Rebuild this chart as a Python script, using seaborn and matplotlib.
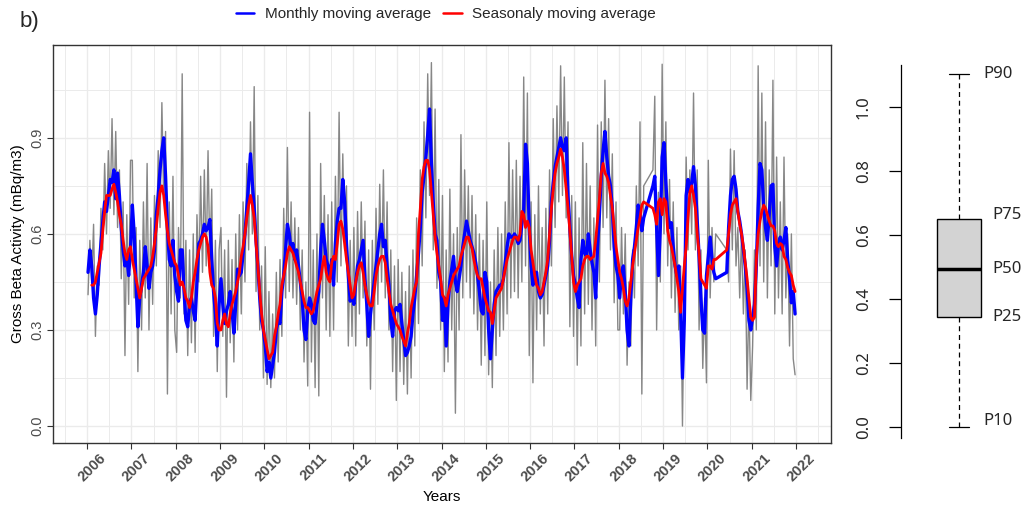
import numpy as np
import pandas as pd
import matplotlib
matplotlib.use("Agg")
import matplotlib.pyplot as plt
import seaborn as sns
from matplotlib.lines import Line2D
from matplotlib.transforms import ScaledTranslation

nan = np.nan

# ---------------- data ----------------
years = list(range(2006, 2022))          # one row of 24 semi-monthly values per year
tick_years = list(range(2006, 2023))

# thin grey line: measured gross beta activity (mBq/m3)
raw_activity = [
    0.41,0.58,0.45,0.63, 0.28,0.50,0.44,0.68, 0.55,0.82,0.60,0.86, 0.68,0.96,0.66,0.92, 0.62,0.80,0.46,0.70, 0.22,0.66,0.38,0.83,  # 2006
    0.83,0.40,0.62,0.17, 0.58,0.30,0.70,0.40, 0.82,0.30,0.65,0.38, 0.72,0.50,0.86,0.62, 1.01,0.70,0.92,0.10, 0.70,0.35,0.78,0.30,  # 2007
    0.23,0.62,0.40,1.10, 0.35,0.58,0.22,0.55, 0.26,0.60,0.23,0.66, 0.45,0.78,0.48,0.80, 0.50,0.86,0.52,0.74, 0.28,0.58,0.17,0.55,  # 2008
    0.62,0.28,0.55,0.09, 0.58,0.26,0.52,0.20, 0.60,0.30,0.66,0.35, 0.70,0.45,0.82,0.55, 0.95,0.60,1.06,0.42, 0.72,0.30,0.50,0.15,  # 2009
    0.56,0.13,0.42,0.12, 0.35,0.15,0.48,0.20, 0.52,0.28,0.68,0.40, 0.87,0.42,0.70,0.40, 0.65,0.38,0.62,0.30, 0.55,0.20,0.45,0.125, # 2010
    0.98,0.20,0.55,0.12, 0.60,0.094,0.82,0.40, 0.72,0.30,0.66,0.28, 0.70,0.30,0.78,0.45, 0.98,0.50,0.85,0.55, 0.75,0.25,0.58,0.28, # 2011
    0.62,0.25,0.67,0.35, 0.70,0.40,0.64,0.25, 0.55,0.115,0.58,0.30, 0.68,0.38,0.755,0.45, 0.80,0.40,0.70,0.30, 0.55,0.17,0.50,0.08, # 2012
    0.52,0.17,0.48,0.13, 0.42,0.10,0.50,0.15, 0.55,0.25,0.65,0.32, 0.80,0.50,0.95,0.65, 1.10,0.72,1.135,0.55, 0.99,0.43,0.77,0.30, # 2013
    0.72,0.17,0.55,0.20, 0.74,0.30,0.60,0.04, 0.62,0.30,0.91,0.40, 0.80,0.45,0.75,0.40, 0.72,0.35,0.66,0.30, 0.60,0.19,0.58,0.22,  # 2014
    0.70,0.16,0.45,0.12, 0.55,0.22,0.62,0.28, 0.60,0.30,0.70,0.35, 0.885,0.40,0.80,0.42, 0.83,0.40,0.78,0.45, 1.09,0.50,1.04,0.22, # 2015
    0.70,0.135,0.66,0.30, 0.75,0.35,0.62,0.25, 0.68,0.35,0.80,0.50, 0.96,0.62,1.00,0.70, 1.125,0.72,1.09,0.65, 0.95,0.31,0.72,0.28, # 2016
    0.70,0.19,0.65,0.25, 0.885,0.35,0.82,0.38, 0.75,0.30,0.65,0.25, 0.94,0.45,0.95,0.62, 1.08,0.65,0.96,0.55, 0.85,0.385,0.70,0.30, # 2017
    0.30,0.62,0.35,0.60, 0.19,0.45,0.25,0.55, 0.40,0.75,0.50,0.95, 0.10,0.75,nan,nan, nan,nan,0.80,1.03, 0.30,0.73,0.45,1.13,  # 2018
    0.60,0.95,0.50,0.77, 0.40,0.70,0.355,0.62, 0.30,0.50,0.00,0.45, 0.84,0.55,0.80,0.60, 1.04,0.55,0.80,0.30, 0.55,0.18,0.40,0.135, # 2019
    0.83,0.40,0.62,0.45, 0.60,nan,nan,nan, nan,nan,0.55,0.45, 0.865,0.55,0.86,0.50, 0.62,0.40,0.60,0.35, 0.55,0.115,0.40,0.08, # 2020
    0.25,0.55,0.30,1.125, 0.50,1.04,0.45,0.95, 0.40,0.80,0.50,1.08, 0.35,0.84,0.40,0.70, 0.35,0.84,0.40,0.60, 0.25,0.60,0.21,0.16, # 2021
]

# blue: monthly moving average
monthly_ma = [
    0.48,0.55,0.50,0.40, 0.35,0.41,0.50,0.57, 0.64,0.70,0.67,0.72, 0.77,0.76,0.80,0.71, 0.79,0.72,0.62,0.55, 0.50,0.53,0.47,0.55,  # 2006
    0.69,0.60,0.45,0.31, 0.40,0.44,0.48,0.56, 0.50,0.43,0.48,0.50, 0.55,0.66,0.72,0.80, 0.86,0.90,0.78,0.62, 0.52,0.50,0.58,0.47,  # 2007
    0.42,0.39,0.55,0.55, 0.42,0.33,0.31,0.38, 0.40,0.36,0.33,0.45, 0.57,0.58,0.60,0.63, 0.61,0.62,0.645,0.52, 0.42,0.35,0.25,0.38, # 2008
    0.46,0.38,0.32,0.36, 0.38,0.42,0.36,0.29, 0.38,0.49,0.47,0.48, 0.54,0.60,0.68,0.76, 0.85,0.76,0.68,0.58, 0.50,0.40,0.33,0.30,  # 2009
    0.25,0.17,0.20,0.15, 0.19,0.23,0.30,0.33, 0.32,0.42,0.47,0.55, 0.63,0.60,0.55,0.57, 0.52,0.55,0.50,0.45, 0.40,0.30,0.27,0.36,  # 2010
    0.40,0.38,0.33,0.32, 0.38,0.42,0.55,0.63, 0.58,0.52,0.50,0.46, 0.52,0.44,0.57,0.64, 0.68,0.68,0.77,0.70, 0.57,0.47,0.39,0.41,  # 2011
    0.38,0.45,0.50,0.52, 0.55,0.58,0.46,0.38, 0.28,0.35,0.40,0.45, 0.50,0.55,0.60,0.63, 0.56,0.58,0.50,0.44, 0.33,0.28,0.36,0.37,  # 2012
    0.36,0.38,0.32,0.27, 0.22,0.23,0.25,0.28, 0.35,0.40,0.47,0.54, 0.62,0.73,0.78,0.84, 0.91,0.99,0.82,0.70, 0.60,0.58,0.48,0.45,  # 2013
    0.33,0.40,0.25,0.38, 0.45,0.49,0.53,0.45, 0.42,0.46,0.50,0.56, 0.60,0.64,0.61,0.58, 0.56,0.54,0.51,0.47, 0.42,0.36,0.35,0.48,  # 2014
    0.45,0.30,0.21,0.30, 0.38,0.42,0.43,0.44, 0.44,0.46,0.51,0.56, 0.60,0.59,0.59,0.60, 0.59,0.57,0.58,0.63, 0.67,0.88,0.82,0.62,  # 2015
    0.50,0.44,0.48,0.48, 0.42,0.40,0.41,0.44, 0.47,0.50,0.58,0.70, 0.76,0.81,0.84,0.87, 0.90,0.87,0.86,0.90, 0.72,0.62,0.53,0.47,  # 2016
    0.44,0.40,0.37,0.52, 0.58,0.54,0.53,0.60, 0.55,0.51,0.48,0.40, 0.56,0.66,0.78,0.86, 0.92,0.84,0.78,0.75, 0.68,0.56,0.50,0.47,  # 2017
    0.40,0.48,0.50,0.42, 0.30,0.25,0.40,0.52, 0.56,0.62,0.69,0.66, 0.61,0.65,nan,nan, nan,nan,0.75,0.78, 0.62,0.47,0.62,0.84,    # 2018
    0.885,0.76,0.66,0.62, 0.635,0.56,0.50,0.47, 0.50,0.36,0.15,0.33, 0.72,0.77,0.73,0.76, 0.81,0.75,0.64,0.53, 0.40,0.30,0.29,0.47, # 2019
    0.53,0.59,0.52,0.48, 0.46,nan,nan,nan, nan,nan,0.48,0.62, 0.72,0.77,0.78,0.74, 0.67,0.64,0.60,0.55, 0.50,0.43,0.33,0.30,      # 2020
    0.34,0.38,0.50,0.68, 0.82,0.80,0.68,0.62, 0.58,0.66,0.75,0.755, 0.56,0.50,0.57,0.59, 0.55,0.58,0.62,0.52, 0.46,0.385,0.42,0.35, # 2021
]

# red: seasonal moving average
seasonal_ma = [
    nan,nan,0.44,0.44, 0.45,0.48,0.51,0.54, 0.61,0.67,0.72,0.72, 0.72,0.74,0.755,0.73, 0.70,0.66,0.63,0.58, 0.54,0.52,0.55,0.56,  # 2006
    0.52,0.49,0.46,0.43, 0.40,0.43,0.46,0.47, 0.48,0.49,0.50,0.53, 0.57,0.62,0.68,0.73, 0.75,0.72,0.66,0.61, 0.57,0.55,0.53,0.51,  # 2007
    0.50,0.47,0.44,0.45, 0.43,0.40,0.39,0.37, 0.40,0.45,0.48,0.52, 0.55,0.57,0.59,0.60, 0.59,0.56,0.48,0.44, 0.43,0.40,0.32,0.30,  # 2008
    0.30,0.33,0.35,0.32, 0.31,0.35,0.38,0.40, 0.42,0.45,0.48,0.53, 0.56,0.60,0.65,0.69, 0.72,0.69,0.65,0.57, 0.50,0.42,0.35,0.30,  # 2009
    0.27,0.24,0.21,0.22, 0.23,0.28,0.31,0.35, 0.38,0.44,0.47,0.50, 0.54,0.56,0.55,0.54, 0.52,0.50,0.48,0.45, 0.42,0.39,0.37,0.37,  # 2010
    0.36,0.35,0.36,0.39, 0.42,0.44,0.46,0.50, 0.53,0.48,0.46,0.45, 0.51,0.53,0.52,0.57, 0.63,0.64,0.615,0.57, 0.52,0.48,0.44,0.40, # 2011
    0.41,0.45,0.48,0.50, 0.51,0.48,0.44,0.41, 0.385,0.375,0.375,0.42, 0.47,0.50,0.52,0.53, 0.53,0.51,0.46,0.42, 0.38,0.36,0.34,0.32, # 2012
    0.31,0.30,0.28,0.265, 0.25,0.29,0.32,0.37, 0.40,0.43,0.45,0.60, 0.68,0.77,0.81,0.83, 0.83,0.80,0.73,0.66, 0.59,0.54,0.50,0.46, # 2013
    0.41,0.40,0.375,0.41, 0.43,0.45,0.47,0.48, 0.49,0.50,0.53,0.55, 0.57,0.59,0.59,0.57, 0.555,0.52,0.49,0.47, 0.46,0.46,0.43,0.40, # 2014
    0.38,0.36,0.355,0.32, 0.36,0.40,0.41,0.42, 0.43,0.46,0.49,0.52, 0.54,0.56,0.58,0.59, 0.59,0.58,0.60,0.67, 0.66,0.62,0.64,0.62, # 2015
    0.55,0.51,0.47,0.44, 0.43,0.41,0.42,0.45, 0.48,0.52,0.60,0.68, 0.74,0.79,0.82,0.84, 0.865,0.84,0.80,0.74, 0.68,0.61,0.53,0.45, # 2016
    0.42,0.44,0.45,0.46, 0.50,0.52,0.53,0.53, 0.52,0.525,0.53,0.58, 0.645,0.71,0.79,0.82, 0.79,0.78,0.76,0.72, 0.68,0.62,0.56,0.52, # 2017
    0.48,0.46,0.43,0.39, 0.375,0.40,0.45,0.50, 0.54,0.58,0.62,0.65, 0.69,0.70,nan,nan, nan,nan,0.68,0.66, 0.63,0.70,0.71,0.66,    # 2018
    0.71,0.70,0.61,0.58, 0.56,0.53,0.50,0.46, 0.42,0.355,0.43,0.50, 0.56,0.65,0.73,0.75, 0.72,0.68,0.60,0.54, 0.46,0.45,0.44,0.43, # 2019
    0.50,0.50,0.49,0.52, 0.52,nan,nan,nan, nan,nan,0.55,0.60, 0.66,0.69,0.70,0.71, 0.67,0.63,0.60,0.56, 0.51,0.46,0.40,0.34,      # 2020
    0.33,0.34,0.52,0.60, 0.64,0.67,0.69,0.68, 0.66,0.64,0.625,0.625, 0.61,0.57,0.56,0.57, 0.565,0.53,0.52,0.495, 0.48,0.47,0.44,0.42, # 2021
]

legend_labels = ["Monthly moving average", "Seasonaly moving average"]
box_labels = ["P10", "P25", "P50", "P75", "P90"]
box_values = [0.0, 0.344, 0.494, 0.65, 1.103]
box_ticks = [0.0, 0.2, 0.4, 0.6, 0.8, 1.0]

# ---------------- figure ----------------
sns.set_theme(style="white")
plt.rcParams["font.family"] = ["Liberation Sans", "DejaVu Sans"]

W, H = 1028, 508
fig = plt.figure(figsize=(W / 100, H / 100), dpi=100)

def fx(px):
    return px / W

def fy(py):
    return 1 - py / H

ax = fig.add_axes([fx(53), fy(443), fx(831) - fx(53), fy(45) - fy(443)])

t = np.array([y + (k + 0.5) / 24 for y in years for k in range(24)])
df = pd.DataFrame({"t": t, "raw": raw_activity, "monthly": monthly_ma, "seasonal": seasonal_ma})

sns.lineplot(data=df.dropna(subset=["raw"]), x="t", y="raw", ax=ax, color="#7a7a7a",
             lw=1.0, alpha=0.9, estimator=None, sort=False, legend=False)
sns.lineplot(data=df.dropna(subset=["monthly"]), x="t", y="monthly", ax=ax, color="#0000FF",
             lw=2.4, estimator=None, sort=False, legend=False)
sns.lineplot(data=df.dropna(subset=["seasonal"]), x="t", y="seasonal", ax=ax, color="#FF0000",
             lw=2.0, estimator=None, sort=False, legend=False)

ax.set_xlim(2005.23, 2022.79)
ax.set_ylim(-0.053, 1.19)
ax.set_xticks(tick_years)
ax.set_xticks(np.arange(2005.5, 2023.0, 1.0), minor=True)
ax.set_yticks([0.0, 0.3, 0.6, 0.9])
ax.set_yticks([0.15, 0.45, 0.75, 1.05], minor=True)
ax.tick_params(axis="both", which="major", direction="out", length=4, width=0.8,
               color="#333333", pad=2, bottom=True, left=True)
ax.tick_params(axis="both", which="minor", length=0)
ax.set_yticklabels(["0.0", "0.3", "0.6", "0.9"], rotation=90, va="center",
                   fontsize=10.5, color="#4d4d4d")
ax.set_xticklabels([str(y) for y in tick_years], rotation=45, ha="center", va="top",
                   fontsize=10.5, fontweight="bold", color="#4d4d4d")
ax.grid(which="major", color="#ebebeb", lw=1.0)
ax.grid(which="minor", color="#ebebeb", lw=0.7)
ax.set_axisbelow(True)
for sp in ax.spines.values():
    sp.set_color("#333333")
    sp.set_linewidth(1.0)
ax.set_xlabel("Years", fontsize=11, color="black", labelpad=4)
ax.set_ylabel("Gross Beta Activity (mBq/m3)", fontsize=11, color="black", labelpad=4)

handles = [Line2D([], [], color="#0000FF", lw=1.8), Line2D([], [], color="#FF0000", lw=1.8)]
fig.legend(handles, legend_labels, loc="center", bbox_to_anchor=(fx(446), fy(14)), ncol=2,
           frameon=False, fontsize=11, handlelength=1.2, handletextpad=0.7,
           columnspacing=0.8, borderpad=0)

fig.text(fx(20), fy(22), "b)", fontsize=16, va="center", ha="left")

# ---------------- box panel ----------------
bx = fig.add_axes([fx(901), fy(438), fx(1017) - fx(901), fy(65) - fy(438)])
stats = [{
    "whislo": box_values[0], "q1": box_values[1], "med": box_values[2],
    "q3": box_values[3], "whishi": box_values[4], "fliers": [],
}]
bx.bxp(stats, positions=[0.5], widths=0.38, capwidths=0.18, patch_artist=True, showfliers=False,
       boxprops=dict(facecolor="#d3d3d3", edgecolor="black", lw=1.0),
       medianprops=dict(color="black", lw=2.5),
       whiskerprops=dict(color="black", lw=0.9, linestyle=(0, (4, 3))),
       capprops=dict(color="black", lw=0.9))
bx.set_xlim(0, 1)
bx.set_ylim(-0.034, 1.131)
bx.set_facecolor("none")
for name, sp in bx.spines.items():
    sp.set_visible(name == "left")
bx.spines["left"].set_color("black")
bx.spines["left"].set_linewidth(0.9)
bx.set_xticks([])
bx.set_yticks(box_ticks)
bx.tick_params(axis="y", which="major", left=True, direction="out", length=9, width=0.9,
               color="black", pad=12)
bx.set_yticklabels([f"{v:.1f}" for v in box_ticks], rotation=90, va="center",
                   fontsize=12, family=["Noto Sans", "DejaVu Sans"])
label_offsets = [0.02, 0.0, 0.0, 0.012, 0.0]
label_x = [0.71, 0.79, 0.79, 0.79, 0.71]
for lab, v, dy, lx in zip(box_labels, box_values, label_offsets, label_x):
    bx.text(lx, v + dy, lab, fontsize=12, va="center", ha="left",
            family=["Noto Sans", "DejaVu Sans"], clip_on=False)

# shift the rotated year labels slightly right, as in the reference
off = ScaledTranslation(5 / 100, 0, fig.dpi_scale_trans)
for lab in ax.get_xticklabels():
    lab.set_transform(lab.get_transform() + off)

fig.savefig("out.png", dpi=100)
